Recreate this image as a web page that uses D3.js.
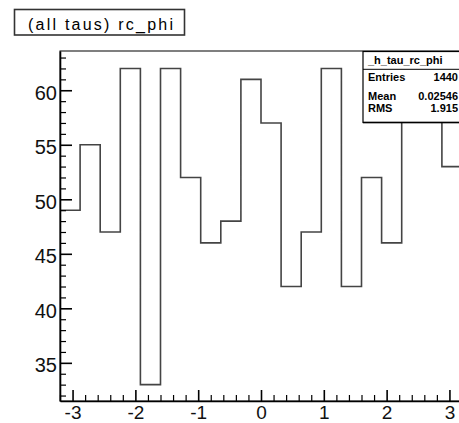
<!DOCTYPE html>
<html>
<head>
<meta charset="utf-8">
<script src="https://cdn.jsdelivr.net/npm/d3@7"></script>
<style>
  html, body { margin: 0; padding: 0; background: #fff; }
  svg { display: block; }
  text { font-family: "Liberation Sans", Arial, Helvetica, sans-serif; }
</style>
</head>
<body>
<svg id="chart" width="459" height="423"></svg>
<script>
// ---- data ----
const binEdgesMin = -3.2;
const binEdgesMax = 3.2;
const counts = [49, 55, 47, 62, 33, 62, 52, 46, 48, 61, 57, 42, 47, 62, 42, 52, 46, 62, 62, 53];
const xTickValues = [-3, -2, -1, 0, 1, 2, 3];
const yTickValues = [35, 40, 45, 50, 55, 60];
const titleText = "(all taus) rc_phi";
const statsName = "_h_tau_rc_phi";
const statsLabels = ["Entries", "Mean", "RMS"];
const statsValues = ["1440", "0.02546", "1.915"];

// ---- layout ----
const svg = d3.select("#chart");
const x = d3.scaleLinear().domain([binEdgesMin, binEdgesMax]).range([60, 462]);
const y = d3.scaleLinear().domain([31.5, 63.6]).range([401, 51]);

const nb = counts.length;
const bw = (binEdgesMax - binEdgesMin) / nb;

// frame
svg.append("rect")
  .attr("x", x(binEdgesMin)).attr("y", y(63.6))
  .attr("width", x(binEdgesMax) - x(binEdgesMin))
  .attr("height", y(31.5) - y(63.6))
  .attr("fill", "none").attr("stroke", "#000").attr("stroke-width", 1);

// histogram outline
const pts = [];
counts.forEach((c, i) => {
  pts.push([binEdgesMin + i * bw, c]);
  pts.push([binEdgesMin + (i + 1) * bw, c]);
});
svg.append("path")
  .datum(pts)
  .attr("d", d3.line().x(d => x(d[0])).y(d => y(d[1])))
  .attr("fill", "none")
  .attr("stroke", "#444")
  .attr("stroke-width", 1.6);

// minor ticks
const yMinor = d3.range(32, 64, 1).filter(v => v % 5 !== 0);
const xMinor = d3.range(-32, 33, 2).map(v => v / 10).filter(v => Math.abs(v - Math.round(v)) > 1e-6);

const yMinorAxis = d3.axisLeft(y).tickValues(yMinor).tickSize(-6).tickFormat("");
svg.append("g").attr("transform", `translate(${x(binEdgesMin)},0)`).call(yMinorAxis)
  .call(g => g.select(".domain").remove())
  .call(g => g.selectAll("line").attr("stroke", "#000").attr("stroke-width", 1.2));

const xMinorAxis = d3.axisBottom(x).tickValues(xMinor).tickSize(-6).tickFormat("");
svg.append("g").attr("transform", `translate(0,${y(31.5)})`).call(xMinorAxis)
  .call(g => g.select(".domain").remove())
  .call(g => g.selectAll("line").attr("stroke", "#000").attr("stroke-width", 1.2));

// major axes
const yAxis = d3.axisLeft(y).tickValues(yTickValues).tickSize(-12).tickPadding(3).tickSizeOuter(0)
  .tickFormat(d3.format("d"));
const gy = svg.append("g").attr("transform", `translate(${x(binEdgesMin)},0)`).call(yAxis);
gy.select(".domain").attr("stroke", "#000").attr("stroke-width", 1.6);
gy.selectAll(".tick line").attr("stroke", "#000").attr("stroke-width", 1.6);
gy.selectAll(".tick text").attr("font-size", 20).attr("fill", "#111")
  .attr("font-family", "Liberation Sans, Arial, sans-serif").attr("dy", "0.45em");

const xAxis = d3.axisBottom(x).tickValues(xTickValues).tickSize(-11).tickPadding(5).tickSizeOuter(0)
  .tickFormat(d => d < 0 ? "-" + Math.abs(d) : String(d));
const gx = svg.append("g").attr("transform", `translate(0,${y(31.5)})`).call(xAxis);
gx.select(".domain").attr("stroke", "#000").attr("stroke-width", 1.6);
gx.selectAll(".tick line").attr("stroke", "#000").attr("stroke-width", 1.6);
gx.selectAll(".tick text").attr("font-size", 19).attr("fill", "#111")
  .attr("font-family", "Liberation Sans, Arial, sans-serif").attr("dy", "0.66em");

// stats box
const sb = svg.append("g");
sb.append("rect").attr("x", 363).attr("y", 51.5).attr("width", 120).attr("height", 71)
  .attr("fill", "#fff").attr("stroke", "#000").attr("stroke-width", 1.2);
sb.append("line").attr("x1", 363).attr("x2", 483).attr("y1", 122.5).attr("y2", 122.5)
  .attr("stroke", "#000").attr("stroke-width", 1.6);
sb.append("line").attr("x1", 363).attr("x2", 483).attr("y1", 69.3).attr("y2", 69.3)
  .attr("stroke", "#000").attr("stroke-width", 1);
sb.append("text").attr("x", 368).attr("y", 64).attr("font-size", 11).attr("font-weight", "bold")
  .attr("fill", "#000").text(statsName);
const rowY = [80.5, 100, 112];
statsLabels.forEach((l, i) => {
  sb.append("text").attr("x", 368).attr("y", rowY[i]).attr("font-size", 11).attr("font-weight", "bold")
    .attr("fill", "#000").text(l);
  sb.append("text").attr("x", 458).attr("y", rowY[i]).attr("font-size", 11).attr("font-weight", "bold")
    .attr("text-anchor", "end").attr("fill", "#000").text(statsValues[i]);
});

// title box
const tb = svg.append("g");
tb.append("rect").attr("x", 14.5).attr("y", 9.5).attr("width", 170).attr("height", 25.5)
  .attr("fill", "#fff").attr("stroke", "#333").attr("stroke-width", 1.6);
tb.append("text").attr("x", 28).attr("y", 29.5).attr("font-size", 16)
  .attr("textLength", 145).attr("lengthAdjust", "spacing")
  .attr("fill", "#000").text(titleText);
</script>
</body>
</html>
